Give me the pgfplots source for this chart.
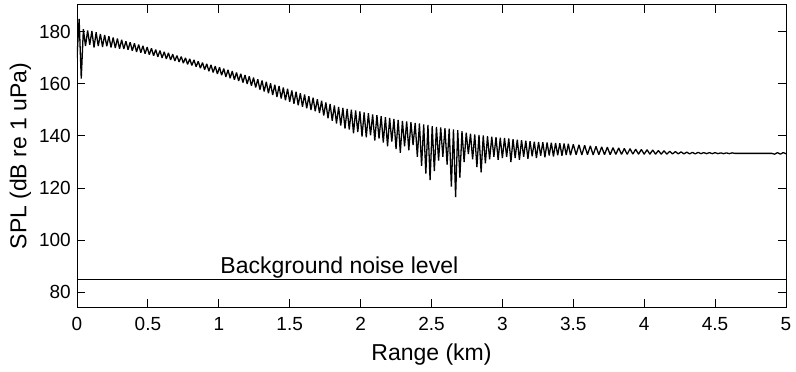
\documentclass[border=0pt]{standalone}
\usepackage{fontspec}
\setmainfont{Liberation Sans}
\usepackage{pgfplots}
\usepackage{pgfplotstable}
\pgfplotsset{compat=1.18}

\pgfplotstableread{
x y
0.000 170
0.015 185
0.030 162
0.045 181
0.060 174.5
0.075 180.5
0.090 175
0.105 180.3
0.120 174
0.135 179.8
0.150 174.5
0.165 179.2
0.180 174.2
0.195 178.8
0.210 174.5
0.225 178.3
0.240 174.0
0.255 177.8
0.270 173.8
0.285 177.4
0.300 173.5
0.315 176.9
0.330 173.4
0.345 176.4
0.360 173.1
0.375 176.0
0.390 172.7
0.405 175.6
0.420 172.3
0.435 175.1
0.450 172.0
0.465 174.6
0.480 171.6
0.495 174.1
0.510 171.2
0.525 173.7
0.540 170.8
0.555 173.2
0.570 170.4
0.585 172.8
0.600 170.0
0.615 172.3
0.630 169.6
0.645 171.9
0.660 169.2
0.675 171.4
0.690 168.8
0.705 170.9
0.720 168.4
0.735 170.5
0.750 168.0
0.765 170.0
0.780 167.5
0.795 169.6
0.810 167.1
0.825 169.2
0.840 166.6
0.855 168.7
0.870 166.0
0.885 168.2
0.900 165.5
0.915 167.7
0.930 164.9
0.945 167.3
0.960 164.4
0.975 166.8
0.990 163.8
1.005 166.4
1.020 163.3
1.035 165.9
1.050 162.7
1.065 165.4
1.080 162.2
1.095 164.9
1.110 161.6
1.125 164.4
1.140 161.1
1.155 163.9
1.170 160.5
1.185 163.4
1.200 160.0
1.215 162.9
1.230 159.3
1.245 162.4
1.260 158.6
1.275 161.8
1.290 157.8
1.305 161.3
1.320 157.1
1.335 160.8
1.350 156.4
1.365 160.2
1.380 155.7
1.395 159.7
1.410 155.0
1.425 159.2
1.440 154.4
1.455 158.6
1.470 153.7
1.485 158.1
1.500 153.1
1.515 157.5
1.530 152.4
1.545 157.0
1.560 151.8
1.575 156.4
1.590 151.2
1.605 155.9
1.620 150.6
1.635 155.3
1.650 150.0
1.665 154.7
1.680 149.5
1.695 154.1
1.710 148.8
1.725 153.5
1.740 147.8
1.755 152.9
1.770 146.8
1.785 152.3
1.800 145.8
1.815 151.7
1.830 144.8
1.845 151.1
1.860 144.0
1.875 150.8
1.890 142.8
1.905 150.4
1.920 142.5
1.935 150.1
1.950 141.0
1.965 149.8
1.980 141.5
1.995 149.4
2.010 139.8
2.025 149.0
2.040 139.5
2.055 148.7
2.070 140.2
2.085 148.3
2.100 138.2
2.115 148.0
2.130 139.0
2.145 147.6
2.160 137.5
2.175 147.2
2.190 136.0
2.205 146.9
2.220 137.8
2.235 146.5
2.250 135.0
2.265 146.2
2.280 133.5
2.295 145.8
2.310 136.0
2.325 145.6
2.340 134.5
2.355 145.3
2.370 136.5
2.385 145.0
2.400 132.0
2.415 144.8
2.430 128.5
2.445 144.4
2.460 125.5
2.475 144.2
2.490 123.0
2.505 143.8
2.520 126.5
2.535 143.5
2.550 130.5
2.565 143.3
2.580 132.0
2.595 143.0
2.610 129.0
2.625 142.8
2.640 120.5
2.655 142.5
2.670 116.5
2.685 142.2
2.700 124.0
2.715 141.8
2.730 130.0
2.745 141.3
2.760 133.0
2.775 140.9
2.790 131.0
2.805 140.6
2.820 128.0
2.835 140.4
2.850 126.0
2.865 140.2
2.880 129.5
2.895 139.9
2.910 131.0
2.925 139.7
2.940 132.0
2.955 139.5
2.970 130.8
2.985 139.3
3.000 131.5
3.015 139.2
3.030 132.0
3.045 139.0
3.060 130.0
3.075 138.8
3.090 131.5
3.105 138.6
3.120 130.8
3.135 138.4
3.150 132.0
3.165 138.2
3.180 131.2
3.195 138.0
3.210 132.2
3.225 137.8
3.240 131.5
3.255 137.7
3.270 132.4
3.285 137.6
3.300 131.8
3.315 137.5
3.330 132.5
3.345 137.4
3.360 132.1
3.375 137.3
3.390 132.6
3.405 137.2
3.420 132.4
3.435 137.1
3.450 132.7
3.465 137.0
3.480 132.6
3.50 136.8
3.52 132.8
3.54 136.6
3.56 132.7
3.58 136.4
3.60 132.8
3.62 136.2
3.64 132.7
3.66 136.0
3.68 132.8
3.70 135.8
3.72 132.8
3.74 135.7
3.76 132.8
3.78 135.5
3.80 132.9
3.82 135.4
3.84 132.9
3.86 135.2
3.88 132.9
3.90 135.1
3.92 133.0
3.94 134.9
3.96 133.0
3.98 134.8
4.00 133.0
4.02 134.7
4.04 133.0
4.06 134.6
4.08 133.0
4.10 134.4
4.12 133.0
4.14 134.3
4.16 133.0
4.18 134.1
4.20 133.1
4.22 134.0
4.24 133.1
4.26 133.9
4.28 133.1
4.30 133.8
4.32 133.1
4.34 133.7
4.36 133.1
4.38 133.7
4.40 133.2
4.42 133.6
4.44 133.2
4.46 133.6
4.48 133.2
4.50 133.6
4.52 133.2
4.54 133.5
4.56 133.2
4.58 133.5
4.60 133.2
4.62 133.5
4.64 133.3
4.65 133.3
4.90 133.3
4.92 133.0
4.94 133.6
4.96 133.0
4.98 133.6
5.00 133.2
}\spl

\pgfplotstableread{
x y
0 85
5 85
}\noise

\begin{document}
\begin{tikzpicture}
\begin{axis}[
  scale only axis,
  width=709bp, height=302bp,
  xmin=0, xmax=5, ymin=74.3, ymax=190.3,
  xtick={0,0.5,...,5},
  ytick={80,100,...,180},
  xticklabels={0,0.5,1,1.5,2,2.5,3,3.5,4,4.5,5},
  tick align=inside,
  major tick length=8bp,
  axis line style={line width=1pt},
  every tick/.style={black, line width=1pt},
  /pgf/number format/assume math mode=true,
  tick label style={font=\fontsize{19bp}{21bp}\selectfont, inner sep=0pt},
  xticklabel shift=10bp,
  yticklabel shift=6bp,
  xlabel={Range (km)},
  ylabel={SPL (dB re 1 uPa)},
  every axis x label/.style={at={(axis description cs:0.5,-0.159)}, anchor=center, font=\fontsize{23bp}{26bp}\selectfont},
  every axis y label/.style={at={(axis description cs:-0.0797,0.5)}, rotate=90, anchor=center, font=\fontsize{23bp}{26bp}\selectfont},
  clip=true,
]
\addplot[black, line width=1.3pt, line join=bevel] table[x=x,y=y] {\spl};
\addplot[black, line width=1pt] table[x=x,y=y] {\noise};
\node[anchor=base west, inner sep=0pt, yshift=5.7bp, font=\fontsize{23bp}{26bp}\selectfont] at (axis cs:1.01,85) {Background noise level};
\end{axis}
\path ([shift={(-77bp,-65bp)}]current axis.south west) rectangle ([shift={(10bp,5bp)}]current axis.north east);
\end{tikzpicture}
\end{document}
